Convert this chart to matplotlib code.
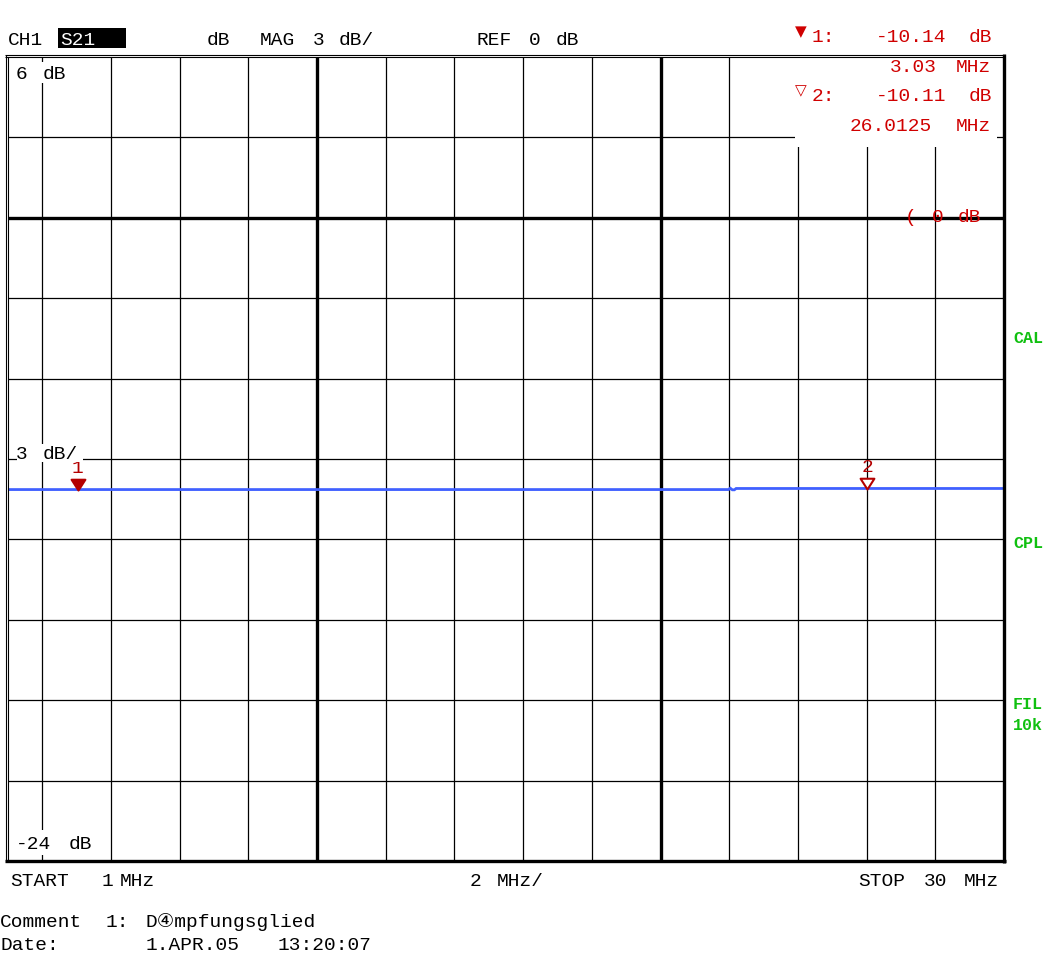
import re
import matplotlib
matplotlib.use("Agg")
import matplotlib.pyplot as plt
from matplotlib.lines import Line2D
from matplotlib.patches import Rectangle
from matplotlib.path import Path

# ---------------- data ----------------
f_start, f_stop = 1.0, 30.0          # MHz
db_top, db_bottom = 6.0, -24.0       # dB
x_grid = [2, 4, 6, 8, 10, 12, 14, 16, 18, 20, 22, 24, 26, 28]
x_grid_major = [10, 20]
y_grid = [3, 0, -3, -6, -9, -12, -15, -18, -21]
y_grid_major = [0]

trace_freq = [1.0, 21.98, 22.03, 22.09, 22.15, 22.2, 30.0]
trace_db = [-10.14, -10.14, -10.09, -10.15, -10.15, -10.10, -10.10]

marker_ids = ["1", "2"]
marker_freq = [3.03, 26.0125]
marker_db = [-10.14, -10.11]
marker_filled = [True, False]

# ---------------- layout helpers ----------------
W, H = 1058, 956
fig = plt.figure(figsize=(W / 100, H / 100), dpi=100, facecolor="white")

MONO = ["Liberation Mono", "DejaVu Sans Mono", "DejaVu Sans", "Noto Sans CJK JP"]
FS = 14
RED = "#d00000"
DARKRED = "#b40000"
GREEN = "#10c010"
BLUE = "#4060ff"


def fx(x):
    return x / W


def fy(y):
    return 1 - y / H


def mono(x, y, s, color="black", size=FS, pitch=13.2, ha="left", weight="normal", z=5):
    if ha == "right":
        x = x - len(s) * pitch
    for m in re.finditer(r"\S+", s):
        fig.text(fx(x + m.start() * pitch), fy(y), m.group(), color=color,
                 fontsize=size, family=MONO, ha="left", va="baseline",
                 fontweight=weight, zorder=z)


def hline(x1, x2, y, lw, color="black", z=3):
    fig.add_artist(Line2D([fx(x1), fx(x2)], [fy(y), fy(y)], transform=fig.transFigure,
                          lw=lw, color=color, zorder=z, solid_capstyle="butt"))


def vline(x, y1, y2, lw, color="black", z=3):
    fig.add_artist(Line2D([fx(x), fx(x)], [fy(y1), fy(y2)], transform=fig.transFigure,
                          lw=lw, color=color, zorder=z, solid_capstyle="butt"))


def wbox(x1, y1, x2, y2, color="white", z=2):
    fig.add_artist(Rectangle((fx(x1), fy(y2)), fx(x2) - fx(x1), fy(y1) - fy(y2),
                             transform=fig.transFigure, facecolor=color,
                             edgecolor="none", zorder=z))


# ---------------- plot area ----------------
L, R, T, B = 8, 1004, 57, 861
ax = fig.add_axes([fx(L), fy(B), fx(R) - fx(L), fy(T) - fy(B)])
ax.set_xlim(f_start, f_stop)
ax.set_ylim(db_bottom, db_top)
ax.axis("off")

THIN, THICK = 0.9, 2.4
for f in x_grid:
    ax.axvline(f, color="black", lw=THICK if f in x_grid_major else THIN, zorder=1)
for d in y_grid:
    ax.axhline(d, color="black", lw=THICK if d in y_grid_major else THIN, zorder=1)

ax.plot(trace_freq, trace_db, color=BLUE, lw=2.0, zorder=3, solid_joinstyle="miter")

tri = Path([(-0.64, 1.0), (0.64, 1.0), (0.0, 0.0), (-0.64, 1.0)],
           [Path.MOVETO, Path.LINETO, Path.LINETO, Path.CLOSEPOLY])
for mid, f, d, filled in zip(marker_ids, marker_freq, marker_db, marker_filled):
    ax.plot([f], [d], marker=tri, ms=15.5, color=DARKRED,
            mfc=DARKRED if filled else "white", mec=DARKRED, mew=1.5,
            zorder=4, linestyle="none")
    ax.annotate(mid, (f, d), xytext=(0, 21), textcoords="offset pixels",
                ha="center", va="center", color=DARKRED, fontsize=FS, family=MONO,
                zorder=5)

# ---------------- frame ----------------
hline(5, 1005, 55, 0.8)
hline(5, 1005, 57, 0.8)
vline(5.5, 55, 862, 0.8)
vline(7.5, 57, 862, 0.8)
hline(5, 1006, 861, 2.4)
vline(1004, 54, 863, 2.4)

# label masks
wbox(14, 62, 72, 83)
wbox(17, 444, 83, 462)
wbox(14, 830, 100, 855)
wbox(795, 46, 997, 147)

# ---------------- texts ----------------
# header
mono(8, 45, "CH1")
wbox(58, 28, 126, 48, color="black", z=4)
mono(60, 45, "S21", color="white")
mono(207, 45, "dB  MAG 3 dB/")
mono(476, 45, "REF 0 dB")

# marker readout
sym = {True: "\u25BC", False: "\u25BD"}
rows = [42, 101]
for i, (mid, f, d, filled) in enumerate(zip(marker_ids, marker_freq, marker_db, marker_filled)):
    yb = rows[i]
    fig.text(fx(800.5), fy(yb - 10), sym[filled], color=RED, fontsize=11,
             family=["DejaVu Sans"], ha="center", va="center", zorder=5)
    mono(812, yb, f"{mid}:", color=RED)
    mono(995, yb, f"{d:.2f} dB", color=RED, ha="right")
    mono(995, yb + 30, f"{f:g} MHz", color=RED, ha="right")

# axis labels inside plot
mono(16, 79, f"{db_top:g} dB")
mono(16, 459, "3 dB/")
mono(16, 849, f"{db_bottom:g} dB")
mono(905, 222, "( 0 dB", color=RED)

# status labels
for txt, yb in [("CAL", 343), ("CPL", 548), ("FIL", 709), ("10k", 730)]:
    mono(1013, yb, txt, color=GREEN, size=12, pitch=11, weight="bold")

# bottom
mono(10, 886, "START")
mono(102, 886, "1")
mono(120, 886, "MHz")
mono(470, 886, "2 MHz/")
mono(1003, 886, "STOP 30 MHz", ha="right")
mono(0, 927, "Comment 1: D\u2463mpfungsglied")
mono(0, 950, "Date:      1.APR.05  13:20:07")

fig.savefig("out.png", dpi=100, facecolor="white")
